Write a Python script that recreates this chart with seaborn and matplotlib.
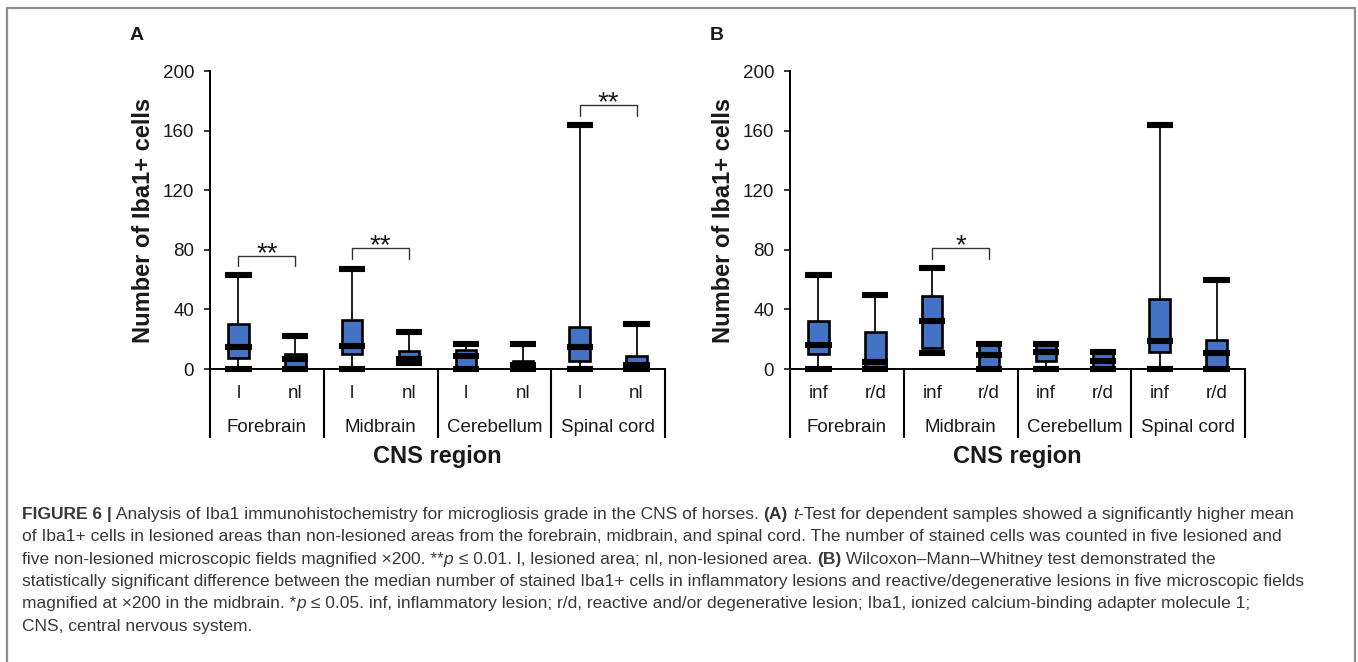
import numpy as np
import matplotlib
matplotlib.use("Agg")
import matplotlib.pyplot as plt
import matplotlib.transforms as mtransforms
from matplotlib.lines import Line2D
from matplotlib import font_manager
import seaborn as sns

# ---------------- data ----------------
regions = ["Forebrain", "Midbrain", "Cerebellum", "Spinal cord"]
groups_a = ["l", "nl"]
groups_b = ["inf", "r/d"]

# Panel A: l / nl for each region (min, Q1, median, Q3, max)
a_min = [0, 0, 0, 4, 0, 0, 0, 0]
a_q1 = [7.5, 1, 10, 5, 0, 0, 5.5, 0]
a_med = [15, 7, 15.5, 6.5, 8.5, 2.7, 15, 2.7]
a_q3 = [30, 10, 33, 12, 12.5, 5.5, 28, 8.5]
a_max = [63, 22, 67, 25, 17, 17, 164, 30]

# Panel B: inf / r/d for each region
b_min = [0, 0, 10.5, 0, 0, 0, 0, 0]
b_q1 = [10, 1, 14, 0, 5.5, 0, 11.5, 0]
b_med = [16, 5, 32.5, 9.5, 11.5, 5.5, 18.5, 10.5]
b_q3 = [32, 24.5, 49, 17, 17, 11.5, 47, 19.5]
b_max = [63, 50, 67.5, 17, 17, 11.5, 164, 60]

# significance brackets: (left box, right box, bracket height, label)
sig_a = [(0, 1, 76, "**"), (2, 3, 81, "**"), (6, 7, 177, "**")]
sig_b = [(2, 3, 81, "*")]

yticks = [0, 40, 80, 120, 160, 200]
ylabel = "Number of Iba1+ cells"
xlabel = "CNS region"

caption_lines = [
    [("FIGURE 6 |", "bold", "normal"),
     (" Analysis of Iba1 immunohistochemistry for microgliosis grade in the CNS of horses. ", "normal", "normal"),
     ("(A)", "bold", "normal"), (" ", "normal", "normal"), ("t", "normal", "italic"),
     ("-Test for dependent samples showed a significantly higher mean", "normal", "normal")],
    [("of Iba1+ cells in lesioned areas than non-lesioned areas from the forebrain, midbrain, and spinal cord. "
      "The number of stained cells was counted in five lesioned and", "normal", "normal")],
    [("five non-lesioned microscopic fields magnified \u00d7200. **", "normal", "normal"),
     ("p", "normal", "italic"),
     (" \u2264 0.01. l, lesioned area; nl, non-lesioned area. ", "normal", "normal"),
     ("(B)", "bold", "normal"),
     (" Wilcoxon\u2013Mann\u2013Whitney test demonstrated the", "normal", "normal")],
    [("statistically significant difference between the median number of stained Iba1+ cells in inflammatory "
      "lesions and reactive/degenerative lesions in five microscopic fields", "normal", "normal")],
    [("magnified at \u00d7200 in the midbrain. *", "normal", "normal"), ("p", "normal", "italic"),
     (" \u2264 0.05. inf, inflammatory lesion; r/d, reactive and/or degenerative lesion; Iba1, ionized "
      "calcium-binding adapter molecule 1;", "normal", "normal")],
    [("CNS, central nervous system.", "normal", "normal")],
]

# ---------------- style ----------------
sns.set_theme(style="ticks")
plt.rcParams["font.family"] = ["Liberation Sans", "DejaVu Sans"]
plt.rcParams["axes.edgecolor"] = "black"
plt.rcParams["axes.linewidth"] = 1.4
BLUE = "#4472C4"
TXT = "#1a1a1a"

W, H = 1358, 662
fig = plt.figure(figsize=(W / 100, H / 100), dpi=100)
fig.patch.set_facecolor("white")


def px_axes(left, right, top, bottom):
    return fig.add_axes([left / W, 1 - bottom / H, (right - left) / W, (bottom - top) / H])


def fx(x):
    return x / W


def fy(y):
    return 1 - y / H


def draw_panel(ax, mins, q1s, meds, q3s, maxs, sub, sigs, letter, letter_x, ylab_x):
    n = len(mins)
    pos = np.arange(n)
    stats = [dict(whislo=a, q1=b, med=c, q3=d, whishi=e, fliers=[])
             for a, b, c, d, e in zip(mins, q1s, meds, q3s, maxs)]
    arts = ax.bxp(stats, positions=pos, widths=0.36, capwidths=0.46, patch_artist=True,
                  showfliers=False,
                  boxprops=dict(facecolor=BLUE, edgecolor="black", linewidth=1.9),
                  whiskerprops=dict(color="black", linewidth=1.25),
                  capprops=dict(color="black", linewidth=4.4, solid_capstyle="butt"),
                  medianprops=dict(linewidth=0))
    for key in arts:
        for a in arts[key]:
            a.set_clip_on(False)
    for c in arts["caps"]:
        c.set_zorder(3)
    ax.hlines(meds, pos - 0.23, pos + 0.23, color="black", linewidth=4.4, zorder=3, clip_on=False)

    ax.set_xlim(-0.5, n - 0.5)
    ax.set_ylim(0, 200)
    ax.set_yticks(yticks)
    ax.set_xticks([])
    ax.tick_params(axis="y", direction="out", length=4.5, width=1.1, pad=7,
                   labelsize=13.5, colors="black", labelcolor=TXT)
    sns.despine(ax=ax)
    ax.set_facecolor("white")

    trans = mtransforms.blended_transform_factory(ax.transData, ax.transAxes)
    for xv in np.arange(-0.5, n, 2):
        ax.plot([xv, xv], [0, -0.2315], transform=trans, color="black", lw=1.5,
                clip_on=False, solid_capstyle="butt")

    tf = mtransforms.blended_transform_factory(ax.transData, fig.transFigure)
    for i in range(n):
        ax.text(i, fy(393), sub[i % 2], transform=tf, ha="center", va="center",
                fontsize=13.5, color=TXT)
    for k, r in enumerate(regions):
        ax.text(2 * k + 0.5, fy(427), r, transform=tf, ha="center", va="center",
                fontsize=13.5, color=TXT)

    for i0, i1, yb, lab in sigs:
        leg = 7
        ax.plot([i0, i0, i1, i1], [yb - leg, yb, yb, yb - leg], color="#333333", lw=1.0,
                clip_on=False)
        fs = 20
        ax.annotate(lab, xy=((i0 + i1) / 2, yb), xytext=(0, 8 - 0.58 * fs),
                    textcoords="offset points", ha="center", va="baseline",
                    fontsize=fs, color=TXT)

    bb = ax.get_position()
    cx = (bb.x0 + bb.x1) / 2
    fig.text(cx, fy(457), xlabel, ha="center", va="center", fontsize=17,
             fontweight="bold", color=TXT)
    fig.text(fx(ylab_x), fy(220), ylabel, ha="center", va="center", rotation=90,
             fontsize=17, fontweight="bold", color=TXT)
    fig.text(fx(letter_x), fy(35), letter, ha="center", va="center", fontsize=14,
             fontweight="bold", color=TXT)


axA = px_axes(210, 665, 71, 369)
axB = px_axes(790, 1245, 71, 369)

draw_panel(axA, a_min, a_q1, a_med, a_q3, a_max, groups_a, sig_a, "A", 137, 143)
draw_panel(axB, b_min, b_q1, b_med, b_q3, b_max, groups_b, sig_b, "B", 717, 723)

# ---------------- frame ----------------
fc = "#8f8f8f"
for xs, ys in [([7, 7], [8, 662]), ([7, 1355], [8, 8]), ([1355, 1355], [8, 662])]:
    fig.add_artist(Line2D([fx(x) for x in xs], [fy(y) for y in ys], color=fc, lw=1.6,
                          transform=fig.transFigure))

# ---------------- caption ----------------
names = {f.name for f in font_manager.fontManager.ttflist}
cap_family = "Liberation Sans Narrow" if "Liberation Sans Narrow" in names else "Liberation Sans"
renderer = fig.canvas.get_renderer()
CAPC = "#383838"


def seg_width(s, size, weight, style):
    t1 = fig.text(0, 0, "|" + s + "|", fontsize=size, fontweight=weight, fontstyle=style,
                  family=cap_family)
    t2 = fig.text(0, 0, "||", fontsize=size, fontweight=weight, fontstyle=style,
                  family=cap_family)
    w = t1.get_window_extent(renderer).width - t2.get_window_extent(renderer).width
    t1.remove()
    t2.remove()
    return w


base = 10.0
w4 = sum(seg_width(s, base, wt, st) for s, wt, st in caption_lines[3])
cap_size = base * 1288.0 / w4

x0 = 22
for li, line in enumerate(caption_lines):
    yb = 519 + li * 22.3
    cur = x0
    for s, wt, st in line:
        fig.text(fx(cur), fy(yb), s, fontsize=cap_size, fontweight=wt, fontstyle=st,
                 family=cap_family, color=CAPC, ha="left", va="baseline")
        cur += seg_width(s, cap_size, wt, st)

fig.savefig("out.png", dpi=100, facecolor="white")
